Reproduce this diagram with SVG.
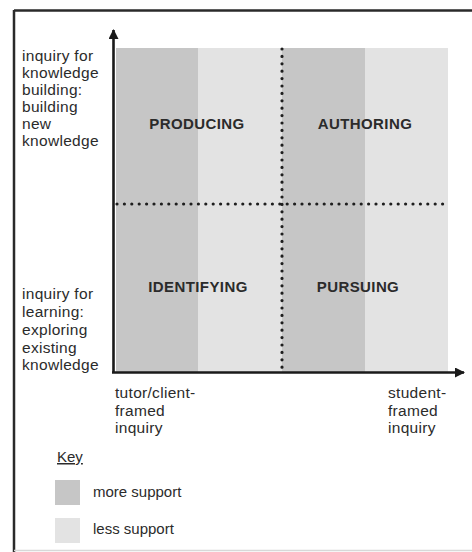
<svg xmlns="http://www.w3.org/2000/svg" width="472" height="552" viewBox="0 0 472 552">
<style>
text{font-family:"Liberation Sans",Arial,sans-serif;fill:#2b2b2b}
.lbl{font-size:15.5px;letter-spacing:0.3px}
.q{font-size:15px;font-weight:bold;letter-spacing:0.4px;text-anchor:middle}
.key{font-size:15px}
.more{fill:#c6c6c6}
.less{fill:#e3e3e3}
.dot{stroke:#1e1e1e;stroke-width:3.2;stroke-linecap:round;stroke-dasharray:0 7.4;fill:none}
.axis{stroke:#1a1a1a;stroke-width:2.6;fill:none}
</style>
<defs>
<marker id="ah" markerWidth="10" markerHeight="10" refX="9" refY="5" orient="auto" markerUnits="userSpaceOnUse"><path d="M0,0 L10,5 L0,10 Z" fill="#1a1a1a"/></marker>
</defs>
<rect width="472" height="552" fill="#ffffff"/>
<g id="frame">
<line x1="14" y1="10.5" x2="472" y2="10.5" stroke="#2a2a2a" stroke-width="2.5"/>
<line x1="14" y1="10" x2="14" y2="552" stroke="#2a2a2a" stroke-width="2.5"/>
<line x1="14" y1="550.5" x2="472" y2="550.5" stroke="#d8d8d8" stroke-width="1.5"/>
</g>
<g id="bands">
<rect class="more" x="116" y="48" width="82" height="324"/>
<rect class="less" x="198" y="48" width="84" height="324"/>
<rect class="more" x="282" y="48" width="83" height="324"/>
<rect class="less" x="365" y="48" width="83" height="324"/>
</g>
<g id="connectors">
<line class="dot" x1="282" y1="49" x2="282" y2="372"/>
<line class="dot" x1="117" y1="204" x2="448" y2="204"/>
<line class="axis" x1="113.5" y1="373" x2="113.5" y2="30" marker-end="url(#ah)"/>
<line class="axis" x1="112" y1="372.5" x2="464" y2="372.5" marker-end="url(#ah)"/>
</g>
<g id="producing"><text class="q" x="197" y="129">PRODUCING</text></g>
<g id="authoring"><text class="q" x="365" y="129">AUTHORING</text></g>
<g id="identifying"><text class="q" x="198" y="291.5">IDENTIFYING</text></g>
<g id="pursuing"><text class="q" x="358" y="291.5">PURSUING</text></g>
<g id="label-top">
<text class="lbl" x="22" y="61">inquiry for</text>
<text class="lbl" x="22" y="78">knowledge</text>
<text class="lbl" x="22" y="95">building:</text>
<text class="lbl" x="22" y="112">building</text>
<text class="lbl" x="22" y="129">new</text>
<text class="lbl" x="22" y="146">knowledge</text>
</g>
<g id="label-bottom">
<text class="lbl" x="22" y="299">inquiry for</text>
<text class="lbl" x="22" y="317">learning:</text>
<text class="lbl" x="22" y="335">exploring</text>
<text class="lbl" x="22" y="352.5">existing</text>
<text class="lbl" x="22" y="370">knowledge</text>
</g>
<g id="label-tutor">
<text class="lbl" x="115" y="398">tutor/client-</text>
<text class="lbl" x="115" y="415.5">framed</text>
<text class="lbl" x="115" y="433">inquiry</text>
</g>
<g id="label-student">
<text class="lbl" x="388" y="398">student-</text>
<text class="lbl" x="388" y="415.5">framed</text>
<text class="lbl" x="388" y="433">inquiry</text>
</g>
<g id="key">
<text class="key" x="57" y="462" text-decoration="underline">Key</text>
<rect class="more" x="55" y="480" width="25" height="25"/>
<text class="key" x="93" y="497">more support</text>
<rect class="less" x="55" y="518" width="25" height="25"/>
<text class="key" x="93" y="534">less support</text>
</g>
</svg>
